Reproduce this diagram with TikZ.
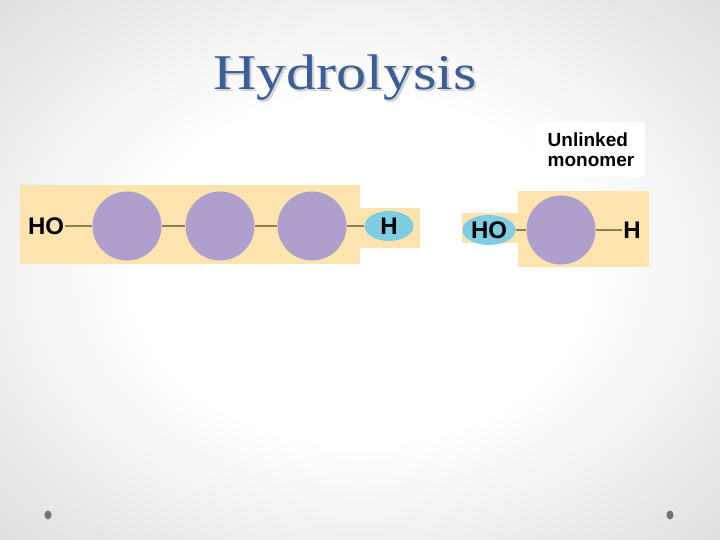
\documentclass[tikz,border=0pt]{standalone}
\usepackage{fontspec}
\setsansfont{Liberation Sans}
\newfontfamily\titlefont{Liberation Serif}
\usetikzlibrary{shapes.geometric}
\definecolor{boxtan}{HTML}{FDE4AF}
\definecolor{monomer}{HTML}{AF9FCC}
\definecolor{hydro}{HTML}{7ECDE2}
\definecolor{bondcol}{HTML}{8E7E50}
\definecolor{titleblue}{HTML}{3A5E95}
\pgfdeclareradialshading{slidebg}{\pgfpoint{0bp}{0bp}}{color(0bp)=(white); color(16bp)=(white); color(36bp)=(black!13); color(50bp)=(black!13)}

\begin{document}
\begin{tikzpicture}[x=1pt,y=-1pt,
  mono/.style={circle,fill=monomer,minimum size=69pt,inner sep=0pt},
  grp/.style={font=\sffamily\bfseries\fontsize{24}{24}\selectfont,inner sep=1pt},
  endgrp/.style={ellipse,fill=hydro,minimum width=49pt,minimum height=30pt,inner sep=0pt,font=\sffamily\bfseries\fontsize{24}{24}\selectfont},
  bond/.style={draw=bondcol,line width=2pt}]
 \useasboundingbox (0,0) rectangle (720,540);
 \shade[shading=slidebg] (0,0) rectangle (720,540);
 % title with its shadow
 \node[font=\titlefont\fontsize{50}{50}\selectfont,text=black!18,anchor=base,xscale=1.2] (titleshadow) at (347,92) {Hydrolysis};
 \node[font=\titlefont\fontsize{50}{50}\selectfont,text=titleblue,anchor=base,xscale=1.2] (title) at (345,90) {Hydrolysis};
 % polymer
 \fill[boxtan] (20,185) rectangle (360,264);
 \fill[boxtan] (360,208) rectangle (420,248);
 \node[grp] (ho1) at (46,226) {HO};
 \node[mono] (m1) at (127,226) {};
 \node[mono] (m2) at (220,226) {};
 \node[mono] (m3) at (312,226) {};
 \node[endgrp] (h1) at (389,226) {H};
 \draw[bond] (ho1) -- (m1) -- (m2) -- (m3) -- (h1);
 % unlinked monomer
 \node[fill=white,minimum width=108pt,minimum height=55pt,align=left,font=\sffamily\bfseries\fontsize{19}{20}\selectfont] (label) at (591,150) {Unlinked\\monomer};
 \fill[boxtan] (518,191) rectangle (649,267);
 \fill[boxtan] (462,213) rectangle (518,243);
 \node[endgrp,minimum width=53pt] (ho2) at (489,230) {HO};
 \node[mono] (m4) at (561,230) {};
 \node[grp] (h2) at (632,230) {H};
 \draw[bond] (ho2) -- (m4) -- (h2);
 % bullets
 \fill[black!55] (48,515) ellipse (3.5 and 4.5);
 \fill[black!55] (670,515) ellipse (3.5 and 4.5);
\end{tikzpicture}
\end{document}
